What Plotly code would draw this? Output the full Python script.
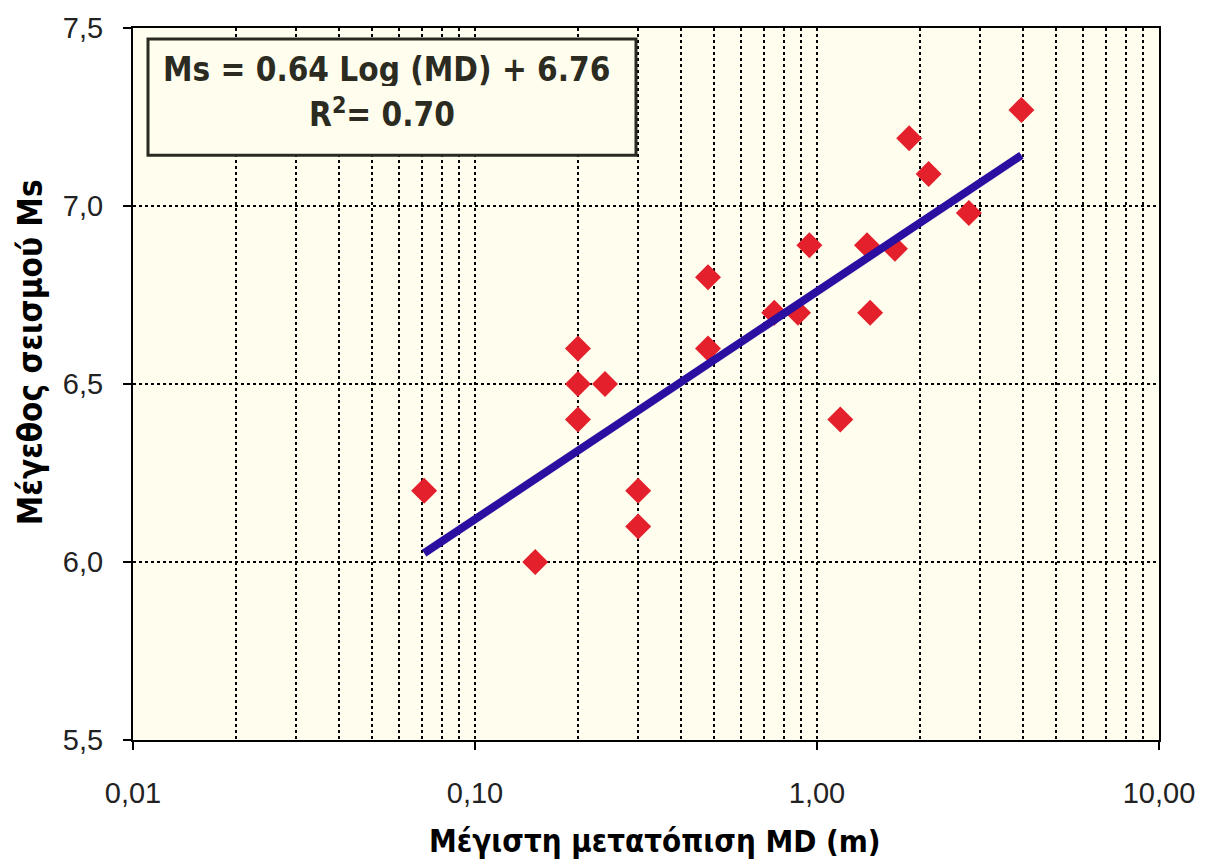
import numpy as np
import plotly.graph_objects as go

# Maximum displacement MD (m) and surface-wave magnitude Ms
md = [0.071, 0.15, 0.20, 0.20, 0.20, 0.24, 0.30, 0.30, 0.48, 0.48,
      0.75, 0.88, 0.95, 1.17, 1.40, 1.43, 1.69, 1.86, 2.12, 2.78, 3.96]
ms = [6.20, 6.00, 6.60, 6.50, 6.40, 6.50, 6.20, 6.10, 6.80, 6.60,
      6.70, 6.70, 6.89, 6.40, 6.89, 6.70, 6.88, 7.19, 7.09, 6.98, 7.27]

# Regression: Ms = a*log10(MD) + b
slope = 0.64
intercept = 6.76
r2 = 0.70

x_ticks = [0.01, 0.1, 1, 10]
x_ticktext = ["0,01", "0,10", "1,00", "10,00"]
y_ticks = [5.5, 6.0, 6.5, 7.0, 7.5]
y_ticktext = ["5,5", "6,0", "6,5", "7,0", "7,5"]
x_minor = [m * 10.0 ** k for k in (-2, -1, 0) for m in range(2, 10)]

fit_x = np.array([min(md), max(md)])
fit_y = slope * np.log10(fit_x) + intercept

BG = "#fffdee"
INK = "#222222"
TITLE_FONT = "DejaVu Sans Condensed, DejaVu Sans, sans-serif"

fig = go.Figure()
fig.add_trace(go.Scatter(
    x=md, y=ms, mode="markers",
    marker=dict(symbol="diamond", size=20, color="#e3202b", line=dict(width=0)),
    showlegend=False, hoverinfo="x+y",
))
fig.add_trace(go.Scatter(
    x=fit_x, y=fit_y, mode="lines",
    line=dict(color="#2a0fa0", width=8),
    showlegend=False, hoverinfo="skip",
))

L, R, T, B = 133, 53, 24, 125
W, H = 1212, 865

def px(xp):
    return (xp - L) / (W - L - R)

def py(yp):
    return (H - B - yp) / (H - T - B)

fig.update_layout(
    width=W, height=H,
    margin=dict(l=L, r=R, t=T, b=B),
    paper_bgcolor="white",
    plot_bgcolor=BG,
    xaxis=dict(
        type="log", range=[-2, 1],
        tickvals=x_ticks, ticktext=x_ticktext,
        ticks="outside", ticklen=8, tickcolor="black", tickwidth=1.5,
        ticklabelstandoff=18,
        tickfont=dict(family="Liberation Sans, Arial, sans-serif", size=29, color=INK),
        showgrid=True, gridcolor="black", griddash="dot", gridwidth=1.5,
        minor=dict(tickvals=x_minor, showgrid=True, gridcolor="black",
                   griddash="dot", gridwidth=1.5, ticks=""),
        showline=True, linecolor="black", linewidth=2, mirror=True,
        zeroline=False,
    ),
    yaxis=dict(
        range=[5.5, 7.5],
        tickvals=y_ticks, ticktext=y_ticktext,
        ticks="outside", ticklen=8, tickcolor="black", tickwidth=1.5,
        ticklabelstandoff=14,
        tickfont=dict(family="Liberation Sans, Arial, sans-serif", size=29, color=INK),
        showgrid=True, gridcolor="black", griddash="dot", gridwidth=1.5,
        showline=True, linecolor="black", linewidth=2, mirror=True,
        zeroline=False,
    ),
    shapes=[dict(
        type="rect", xref="paper", yref="paper",
        x0=px(148), x1=px(636), y0=py(152), y1=py(35),
        fillcolor=BG, line=dict(color="#2a2a22", width=3), layer="above",
    )],
    annotations=[
        dict(
            xref="paper", yref="paper", x=px(386), y=py(65),
            text=f"Ms = {slope:.2f} Log (MD) + {intercept:.2f}",
            showarrow=False, xanchor="center", yanchor="middle",
            height=34,
            font=dict(family=TITLE_FONT, size=33, color="#2b2b22", weight="bold"),
        ),
        dict(
            xref="paper", yref="paper", x=px(382), y=py(109),
            text=f"R<sup>2</sup>= {r2:.2f}",
            showarrow=False, xanchor="center", yanchor="middle",
            height=34,
            font=dict(family=TITLE_FONT, size=33, color="#2b2b22", weight="bold"),
        ),
        dict(
            xref="paper", yref="paper", x=px(655), y=py(842),
            text="Μέγιστη μετατόπιση MD (m)",
            showarrow=False, xanchor="center", yanchor="middle",
            font=dict(family=TITLE_FONT, size=31, color="black", weight="bold"),
        ),
        dict(
            xref="paper", yref="paper", x=px(30), y=py(350),
            text="Μέγεθος σεισμού Ms", textangle=-90,
            showarrow=False, xanchor="center", yanchor="middle",
            font=dict(family=TITLE_FONT, size=33, color="black", weight="bold"),
        ),
    ],
)

fig.write_html("out.html", config={"displayModeBar": False})
